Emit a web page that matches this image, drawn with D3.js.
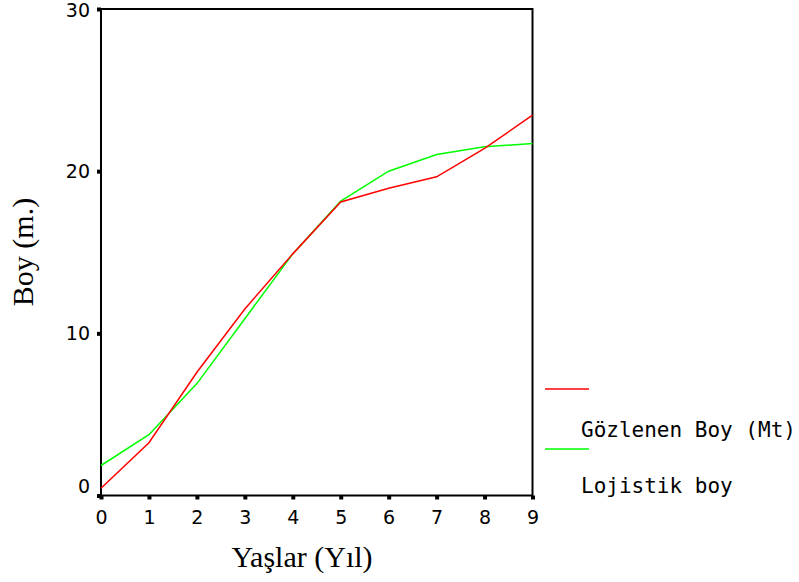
<!DOCTYPE html>
<html><head><meta charset="utf-8">
<script src="https://cdn.jsdelivr.net/npm/d3@7/dist/d3.min.js"></script>
<style>body{margin:0;background:#fff}svg{display:block}</style>
</head><body>
<svg id="c" width="799" height="582"></svg>
<script>
const ages = [0,1,2,3,4,5,6,7,8,9];
const observed = [0.45,3.25,7.6,11.5,14.9,18.1,18.95,19.65,21.4,23.45];
const logistic = [1.85,3.75,6.9,10.9,14.9,18.15,20.0,21.03,21.5,21.7];
const yTicks = [0,10,20,30];
const seriesNames = ["Gözlenen Boy (Mt)","Lojistik boy"];
const seriesColors = ["#ff0000","#00ff00"];

const svg = d3.select("#c");
const x = d3.scaleLinear().domain([0,9]).range([101,532.5]);
const y = d3.scaleLinear().domain([0,30]).range([495.5,9]);

// frame
svg.append("rect").attr("x",x(0)).attr("y",y(30)).attr("width",x(9)-x(0)).attr("height",y(0)-y(30))
  .attr("fill","none").attr("stroke","#000").attr("stroke-width",2);

// x axis
const xa = svg.append("g").attr("transform",`translate(0,${y(0)})`)
  .call(d3.axisBottom(x).tickValues(ages).tickSize(0).tickPadding(15).tickFormat(d3.format("d")));
xa.select(".domain").remove();
xa.selectAll("text").attr("font-family","DejaVu Sans").attr("font-size",19).attr("fill","#000");
xa.selectAll(".tick").append("rect").attr("x",-2).attr("y",0).attr("width",4).attr("height",4).attr("fill","#000");

// y axis
const ya = svg.append("g").attr("transform",`translate(${x(0)},0)`)
  .call(d3.axisLeft(y).tickValues(yTicks).tickSize(0).tickPadding(11).tickFormat(d3.format("d")));
ya.select(".domain").remove();
ya.selectAll("text").attr("font-family","DejaVu Sans").attr("font-size",19).attr("fill","#000")
  .attr("dy", d => d===0 ? "-0.18em" : (d===30 ? "0.42em" : "0.34em"));
ya.selectAll(".tick").append("rect").attr("x",-4).attr("y",-2).attr("width",4).attr("height",4).attr("fill","#000");

// lines
const line = d3.line().x((d,i)=>x(ages[i])).y(d=>y(d));
[logistic, observed].forEach((s,k)=>{
  const idx = k===0?1:0;
  svg.append("path").attr("d",line(s)).attr("fill","none")
    .attr("stroke",seriesColors[idx]).attr("stroke-width",1.5);
});

// axis titles
svg.append("text").attr("x",302).attr("y",567).attr("text-anchor","middle")
  .attr("font-family","Liberation Serif").attr("font-size",30).text("Yaşlar (Yıl)");
svg.append("text").attr("transform","translate(33,252) rotate(-90)").attr("text-anchor","middle")
  .attr("font-family","Liberation Serif").attr("font-size",30).text("Boy (m.)");

// legend
const lg = svg.append("g");
seriesNames.forEach((n,i)=>{
  const ly = 389 + i*60;
  lg.append("line").attr("x1",545).attr("x2",589).attr("y1",ly).attr("y2",ly)
    .attr("stroke",seriesColors[i]).attr("stroke-width",1.5);
  const t = lg.append("text").attr("x",581).attr("y",437 + i*56).attr("font-family","DejaVu Sans Mono")
    .attr("font-size",21).attr("fill","#000").text(n);
  let fs = 21;
  while (fs > 12 && t.node().getComputedTextLength() > 216) { fs -= 0.5; t.attr("font-size", fs); }
});
</script>
</body></html>
